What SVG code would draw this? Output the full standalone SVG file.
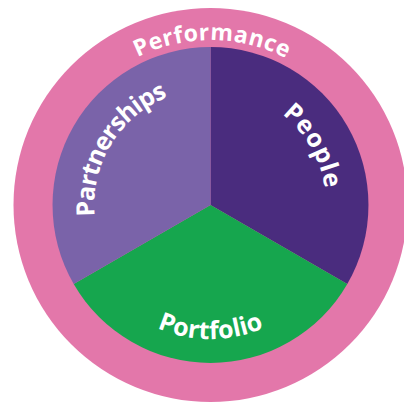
<svg xmlns="http://www.w3.org/2000/svg" width="404" height="402" viewBox="0 0 404 402">
  <style>
    .lbl { font-family: "Open Sans", "Liberation Sans", sans-serif; font-weight: 700; fill: #ffffff; }
  </style>
  <defs>
    <path id="pPerformance" d="M46.3,189.2 A165,165 0 0 1 375,192"/>
    <path id="pPartnerships" d="M141.5,298.3 A116,116 0 0 1 262.3,101.2"/>
    <path id="pPeople" d="M161.5,99.9 A116,116 0 0 1 277,300"/>
    <path id="pPortfolio" d="M77,216.7 A134,134 0 0 0 344,216.7"/>
  </defs>
  <rect width="404" height="402" fill="#ffffff"/>
  <g id="performance">
    <circle cx="210.5" cy="205" r="197" fill="#E377AA"/>
    <text class="lbl" font-size="23"><textPath href="#pPerformance" startOffset="50%" text-anchor="middle" textLength="154">Performance</textPath></text>
  </g>
  <g id="people">
    <path d="M210.5,205 L210.5,47 A158,158 0 0 1 347.3,284 Z" fill="#4A2C7E"/>
    <text class="lbl" font-size="25"><textPath href="#pPeople" startOffset="50%" text-anchor="middle" textLength="88">People</textPath></text>
  </g>
  <g id="portfolio">
    <path d="M210.5,205 L347.3,284 A158,158 0 0 1 73.7,284 Z" fill="#16A64E"/>
    <text class="lbl" font-size="25"><textPath href="#pPortfolio" startOffset="50%" text-anchor="middle" textLength="110">Portfolio</textPath></text>
  </g>
  <g id="partnerships">
    <path d="M210.5,205 L73.7,284 A158,158 0 0 1 210.5,47 Z" fill="#7A63A9"/>
    <text class="lbl" font-size="25"><textPath href="#pPartnerships" startOffset="50%" text-anchor="middle" textLength="150">Partnerships</textPath></text>
  </g>
</svg>
